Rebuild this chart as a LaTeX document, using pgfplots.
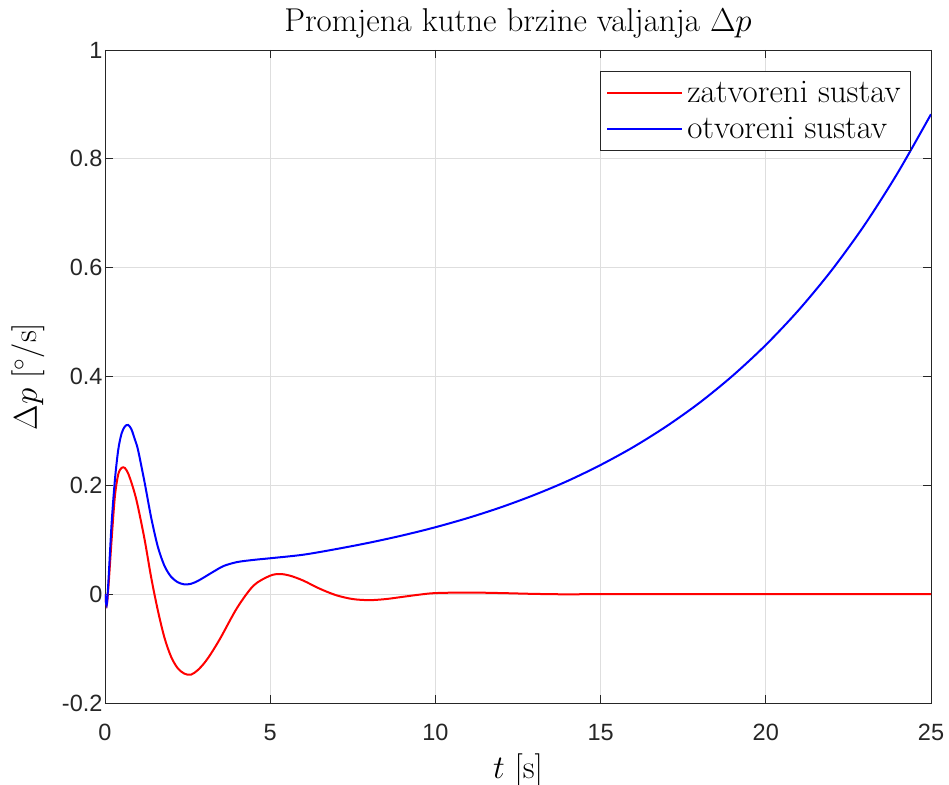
\RequirePackage{fix-cm}
\documentclass[border=0pt]{standalone}
\usepackage{fontspec}
\newfontfamily\tickfont{Liberation Sans}
\usepackage{pgfplots}
\pgfplotsset{compat=1.18}
\definecolor{axgray}{RGB}{38,38,38}
\begin{document}
\begin{tikzpicture}
\path[use as bounding box] (-105pt,-81pt) rectangle (844pt,703pt);
\begin{axis}[
  at={(0pt,0pt)}, anchor=south west,
  scale only axis, width=826pt, height=653pt,
  xmin=0, xmax=25, ymin=-0.2, ymax=1,
  xtick={0,5,10,15,20,25}, xticklabels={0,5,10,15,20,25},
  ytick={-0.2,0,0.2,0.4,0.6,0.8,1}, yticklabels={-0.2,0,0.2,0.4,0.6,0.8,1},
  tick label style={font=\tickfont\fontsize{23.5}{28}\selectfont, text=axgray},
  xticklabel style={yshift=-18pt},
  yticklabel style={xshift=1pt},
  grid=major, major grid style={draw=black!13, line width=0.7pt},
  axis line style={draw=axgray, line width=0.9pt},
  tick style={draw=axgray, line width=0.9pt},
  tick align=inside, major tick length=8pt, tick pos=both,
  title={Promjena kutne brzine valjanja $\Delta p$},
  title style={font=\fontsize{33}{40}\selectfont, yshift=2pt},
  xlabel={$t$ [s]}, ylabel={$\Delta p$ [$^\circ$/s]},
  xlabel style={font=\fontsize{33}{40}\selectfont, yshift=-6pt},
  ylabel style={font=\fontsize{33}{40}\selectfont, yshift=10pt},
  legend style={at={(1,1)}, xshift=-20pt, yshift=-21pt, anchor=north east,
    font=\fontsize{33}{40}\selectfont, draw=axgray, line width=0.9pt,
    inner xsep=6pt, inner ysep=9pt, row sep=11pt,
    nodes={inner xsep=4pt, inner ysep=1pt}},
  legend cell align=left,
  legend image code/.code={\draw[#1, line width=2pt] (0pt,0pt) -- (75pt,0pt);},
]
\addplot[red, line width=2pt, smooth] coordinates {
(0,0) (0.05,-0.02) (0.1,0.01) (0.2,0.1) (0.3,0.18) (0.4,0.22) (0.5,0.232) (0.6,0.232)
(0.7,0.222) (0.8,0.205) (0.9,0.185) (1.0,0.16) (1.2,0.10) (1.4,0.03) (1.6,-0.03)
(1.8,-0.08) (2.0,-0.115) (2.2,-0.136) (2.4,-0.146) (2.6,-0.148) (2.8,-0.14) (3.0,-0.127)
(3.2,-0.11) (3.5,-0.08) (4.0,-0.025) (4.5,0.016) (5.0,0.034) (5.3,0.037) (5.6,0.034)
(6.0,0.025) (6.5,0.01) (7.0,-0.002) (7.5,-0.009) (8.0,-0.011) (8.5,-0.009) (9.0,-0.005)
(9.5,-0.001) (10,0.002) (11,0.003) (12,0.002) (13,0.0005) (14,-0.0003) (15,0) (20,0) (25,0)
};
\addlegendentry{zatvoreni sustav}
\addplot[blue, line width=2pt, smooth] coordinates {
(0,0) (0.05,-0.02) (0.1,0.02) (0.2,0.13) (0.3,0.21) (0.4,0.265) (0.5,0.295) (0.6,0.308)
(0.7,0.311) (0.8,0.303) (0.9,0.285) (1.0,0.265) (1.2,0.205) (1.4,0.14) (1.6,0.087)
(1.8,0.052) (2.0,0.032) (2.2,0.022) (2.4,0.018) (2.6,0.019) (2.8,0.024) (3.0,0.031)
(3.3,0.042) (3.6,0.052) (4.0,0.059) (4.5,0.063) (5,0.066) (6,0.0725) (7,0.0829)
(8,0.0946) (9,0.1079) (10,0.123) (11,0.1403) (12,0.160) (13,0.1825) (14,0.208)
(15,0.2374) (16,0.2707) (17,0.3088) (18,0.352) (19,0.4016) (20,0.458) (21,0.5224)
(22,0.5958) (23,0.6795) (24,0.775) (25,0.882)
};
\addlegendentry{otvoreni sustav}
\end{axis}
\end{tikzpicture}
\end{document}
